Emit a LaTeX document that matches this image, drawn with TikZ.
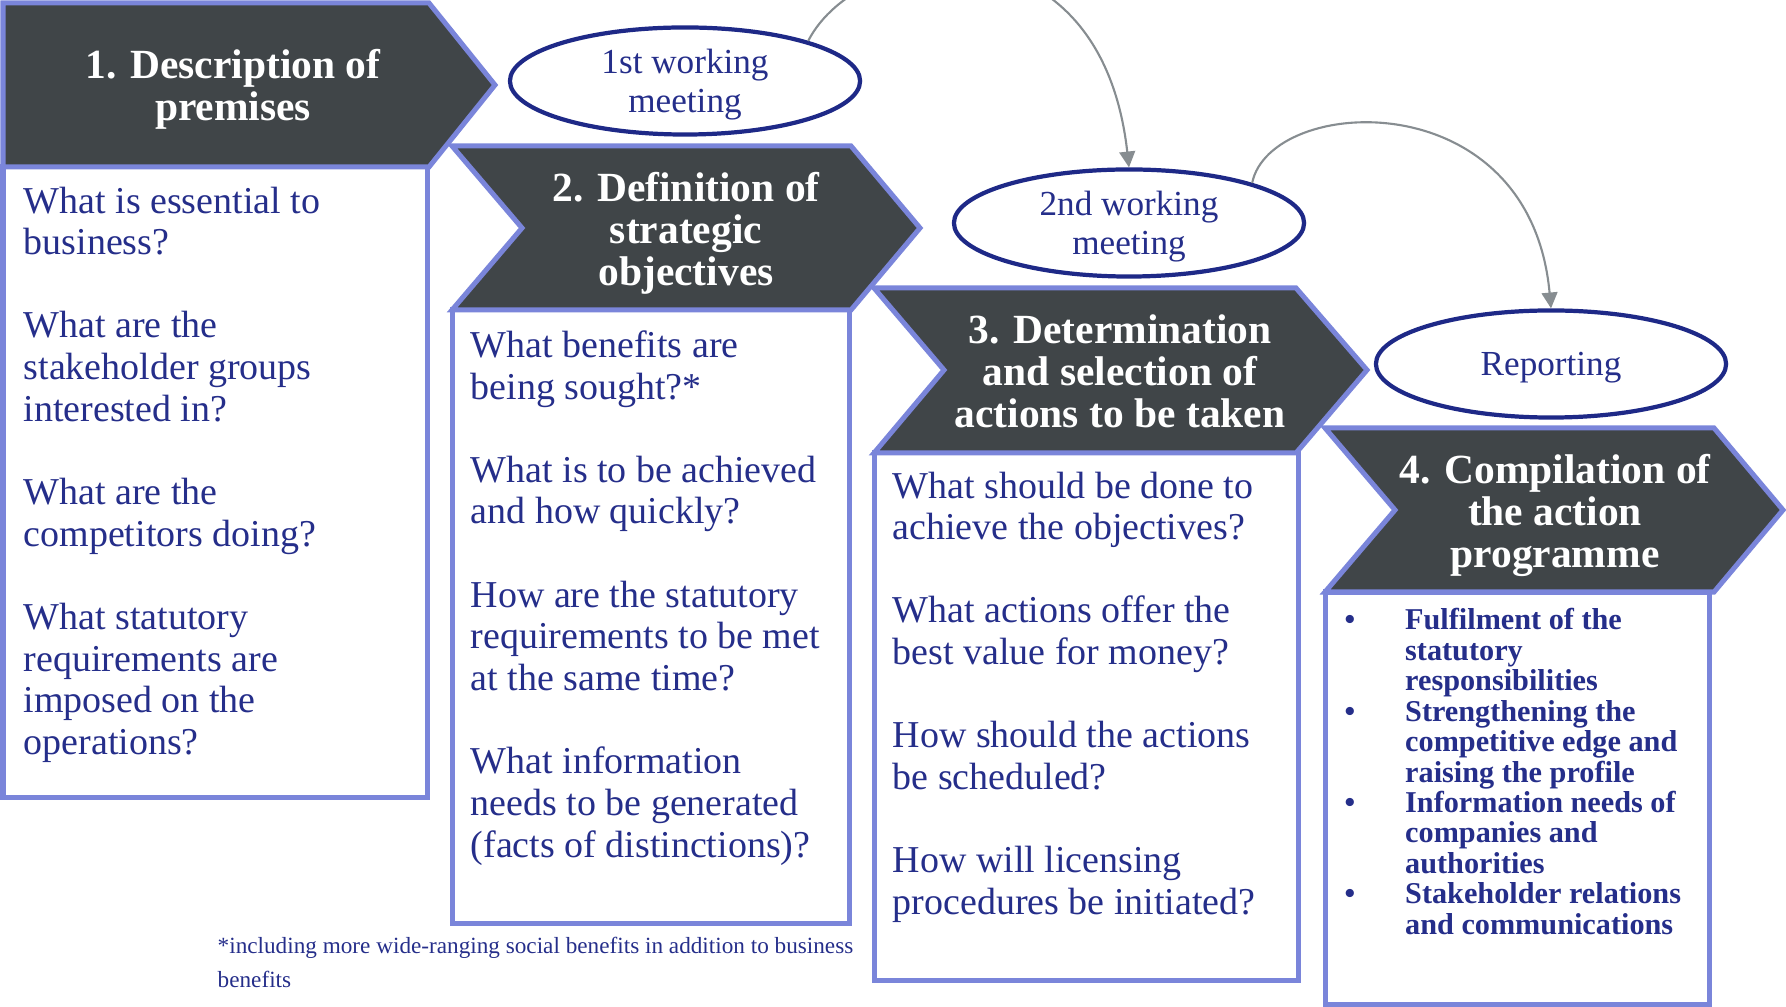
\documentclass[tikz,border=0pt]{standalone}
\usepackage{fontspec}
\setmainfont{Liberation Serif}
\usetikzlibrary{arrows.meta,positioning,shapes.geometric}

\definecolor{headgray}{HTML}{404548}
\definecolor{frameblue}{HTML}{7A85DA}
\definecolor{inkblue}{HTML}{252E8A}
\definecolor{navy}{HTML}{1E2987}
\definecolor{linkgray}{HTML}{878D91}

\begin{document}
\begin{tikzpicture}[x=0.01cm, y=-0.01cm]
		\tikzstyle{header}=[draw=frameblue, fill=headgray, line width=0.05cm, line join=miter]
		\tikzstyle{panel}=[draw=frameblue, fill=white, line width=0.05cm]
		\tikzstyle{steptitle}=[text=white, align=center, text depth=0pt, font=\bfseries\fontsize{11.8}{11.9}\selectfont]
		\tikzstyle{question}=[anchor=north west, inner sep=0pt, align=left, text=inkblue, font=\fontsize{10.8}{11.84}\selectfont]
		\tikzstyle{goal}=[anchor=north west, inner sep=0pt, text=inkblue, font=\bfseries\fontsize{8.6}{8.65}\selectfont]
		\tikzstyle{note}=[anchor=north west, inner sep=0pt, align=left, text=inkblue, font=\fontsize{6.6}{9.7}\selectfont]
		\tikzstyle{meeting}=[ellipse, draw=navy, fill=white, line width=1.2pt, minimum width=3.5cm, minimum height=1.07cm, inner sep=0pt, align=center, text depth=0pt, text=inkblue, font=\fontsize{10}{11.1}\selectfont]
		\tikzstyle{link}=[draw=linkgray, line width=0.6pt, -{Triangle[length=4.5pt,width=4.5pt]}]
		
		\useasboundingbox (0,0) rectangle (1786,1007);
		
		% step 1
		\draw [panel]  (3,167) rectangle (427,797);
		\draw [header] (3,3) -- (429,3) -- (495,85) -- (429,167) -- (3,167) -- cycle;
		\node[steptitle] (t1) at (233,85) {1. Description of\\premises};
		\node[question] (q1) at (23,186) {What is essential to\\business?\\[\baselineskip]What are the\\stakeholder groups\\interested in?\\[\baselineskip]What are the\\competitors doing?\\[\baselineskip]What statutory\\requirements are\\imposed on the\\operations?};
		
		% step 2
		\draw [panel]  (452,310) rectangle (849,923);
		\draw [header] (452,146) -- (851,146) -- (920,228) -- (851,310) -- (452,310) -- (522,228) -- cycle;
		\node[steptitle] (t2) at (686,229) {2. Definition of\\strategic\\objectives};
		\node[question] (q2) at (470,330) {What benefits are\\being sought?*\\[\baselineskip]What is to be achieved\\and how quickly?\\[\baselineskip]How are the statutory\\requirements to be met\\at the same time?\\[\baselineskip]What information\\needs to be generated\\(facts of distinctions)?};
		\node[note] (fn) at (217,936) {*including more wide-ranging social benefits in addition to business\\benefits};
		
		% step 3
		\draw [panel]  (874,453) rectangle (1298,980);
		\draw [header] (874,288) -- (1296,288) -- (1367,370) -- (1296,453) -- (874,453) -- (944,370) -- cycle;
		\node[steptitle] (t3) at (1120,371) {3. Determination\\and selection of\\actions to be taken};
		\node[question] (q3) at (892,471) {What should be done to\\achieve the objectives?\\[\baselineskip]What actions offer the\\best value for money?\\[\baselineskip]How should the actions\\be scheduled?\\[\baselineskip]How will licensing\\procedures be initiated?};
		
		% step 4
		\draw [panel]  (1325,592) rectangle (1709,1004);
		\draw [header] (1325,428) -- (1714,428) -- (1783,510) -- (1714,592) -- (1325,592) -- (1395,510) -- cycle;
		\node[steptitle] (t4) at (1555,511) {4. Compilation of\\the action\\programme};
		\node[goal] (aims) at (1344,608) {\begin{tabular}{@{}p{17.2pt}@{}l@{}}
				• & Fulfilment of the\\
				  & statutory\\
				  & responsibilities\\
				• & Strengthening the\\
				  & competitive edge and\\
				  & raising the profile\\
				• & Information needs of\\
				  & companies and\\
				  & authorities\\
				• & Stakeholder relations\\
				  & and communications
			\end{tabular}};
		
		% meetings
		\node[meeting] (m1) at (685,81) {1st working\\meeting};
		\node[meeting] (m2) at (1129,223) {2nd working\\meeting};
		\node[meeting] (m3) at (1551,364) {Reporting};
		
		\draw [link] (m1.18) .. controls (860,-60) and (1100,-90) .. (m2.north);
		\draw [link] (m2.18) .. controls (1270,95) and (1530,80) .. (m3.north);
\end{tikzpicture}
\end{document}
